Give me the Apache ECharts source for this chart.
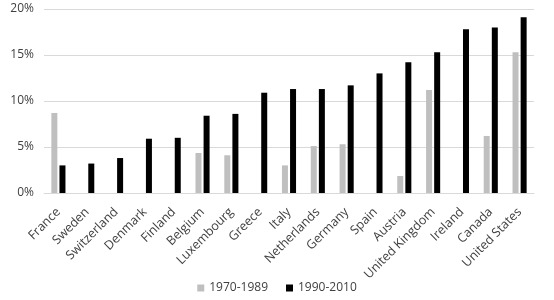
<!DOCTYPE html>
<html><head><meta charset="utf-8">
<script src="https://cdn.jsdelivr.net/npm/echarts@6/dist/echarts.min.js"></script>
<style>html,body{margin:0;padding:0;background:#fff}#c{width:554px;height:300px}</style>
</head><body><div id="c"></div>
<script>
const categories = ["France","Sweden","Switzerland","Denmark","Finland","Belgium","Luxembourg","Greece","Italy","Netherlands","Germany","Spain","Austria","United Kingdom","Ireland","Canada","United States"];
const series1970 = [8.7, null, null, null, null, 4.35, 4.1, null, 3.0, 5.1, 5.3, null, 1.85, 11.2, null, 6.2, 15.3];
const series1990 = [3.0, 3.2, 3.8, 5.9, 6.0, 8.4, 8.6, 10.9, 11.3, 11.3, 11.7, 13.0, 14.2, 15.3, 17.8, 18.0, 19.1];
const yTicks = [0, 5, 10, 15, 20];

const chart = echarts.init(document.getElementById('c'), null, {renderer: 'canvas'});
chart.setOption({
  animation: false,
  textStyle: {fontFamily: 'Open Sans'},
  grid: {left: 44, right: 20, top: 9, bottom: 107},
  legend: {
    bottom: 1, left: 'center', itemWidth: 7, itemHeight: 7, itemGap: 18,
    icon: 'rect',
    textStyle: {fontSize: 12, color: '#404040', fontFamily: 'Open Sans'},
    data: ['1970-1989', '1990-2010']
  },
  xAxis: {
    type: 'category', data: categories,
    axisLine: {lineStyle: {color: '#d9d9d9'}},
    axisTick: {show: false},
    axisLabel: {rotate: 45, interval: 0, margin: 17, fontSize: 12.5, color: '#404040', fontFamily: 'Open Sans'}
  },
  yAxis: {
    type: 'value', min: yTicks[0], max: yTicks[yTicks.length - 1], interval: 5,
    axisLine: {show: false}, axisTick: {show: false},
    splitLine: {lineStyle: {color: '#d9d9d9'}},
    axisLabel: {formatter: v => v + '%', fontSize: 12, color: '#404040', margin: 10, fontFamily: 'Open Sans'}
  },
  series: [
    {name: '1970-1989', type: 'bar', data: series1970, barWidth: 6, barGap: '35%', itemStyle: {color: '#bfbfbf'}},
    {name: '1990-2010', type: 'bar', data: series1990, barWidth: 6, itemStyle: {color: '#000000'}}
  ]
});
</script></body></html>
